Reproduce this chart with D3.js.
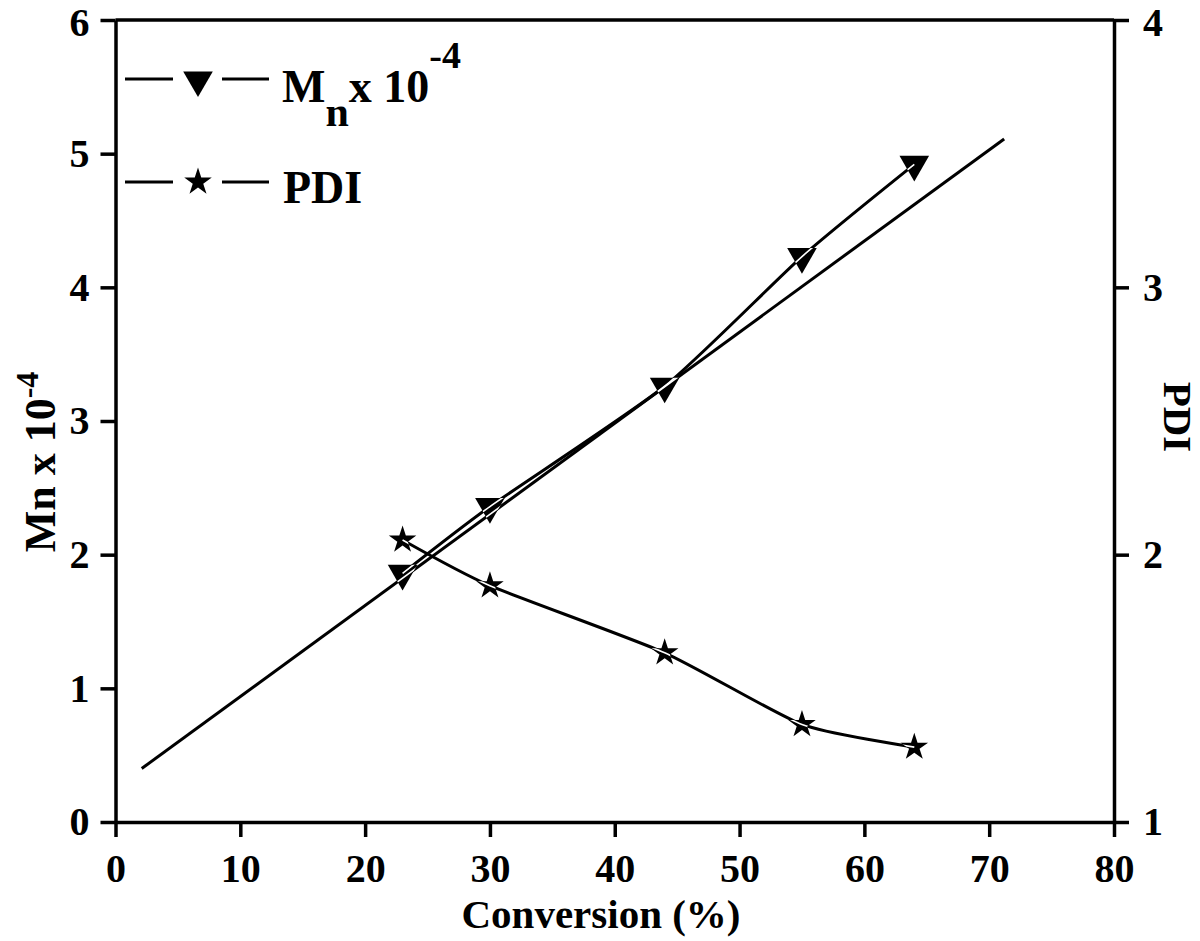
<!DOCTYPE html>
<html>
<head>
<meta charset="utf-8">
<script src="https://cdn.jsdelivr.net/npm/d3@7"></script>
<style>
  body { margin: 0; background: #fff; }
  svg text { font-family: "Liberation Serif", "Times New Roman", serif; font-weight: bold; fill: #000; }
</style>
</head>
<body>
<div id="chart"></div>
<script>
const conversion = [23, 30, 44, 55, 64];
const mnValues = [1.86, 2.36, 3.26, 4.23, 4.92];
const pdiValues = [2.055, 1.884, 1.633, 1.365, 1.28];
const fitConversion = [2.1, 71.2];
const fitMn = [0.4, 5.11];
const xTicks = [0, 10, 20, 30, 40, 50, 60, 70, 80];
const yLeftTicks = [0, 1, 2, 3, 4, 5, 6];
const yRightTicks = [1, 2, 3, 4];

const WIDTH = 1200;
const HEIGHT = 941;
const PLOT = { left: 115.5, right: 1114, top: 20, bottom: 822 };
const AXIS_STROKE = 3.5;
const LINE_STROKE = 3;
const TICK_LEN = 15;
const TICK_FONT = 40;

const svg = d3
  .select("#chart")
  .append("svg")
  .attr("width", WIDTH)
  .attr("height", HEIGHT)
  .attr("viewBox", [0, 0, WIDTH, HEIGHT]);

const x = d3.scaleLinear().domain([0, 80]).range([PLOT.left, PLOT.right]);
const yLeft = d3.scaleLinear().domain([0, 6]).range([PLOT.bottom, PLOT.top]);
const yRight = d3.scaleLinear().domain([1, 4]).range([PLOT.bottom, PLOT.top]);
const intFormat = d3.format("d");

function styleAxis(g) {
  g.select(".domain").attr("stroke-width", AXIS_STROKE).attr("stroke", "#000");
  g.selectAll(".tick line").attr("stroke-width", AXIS_STROKE).attr("stroke", "#000");
  g.selectAll(".tick text").attr("font-size", TICK_FONT).attr("font-family", null);
}

// keep the topmost label inside the frame
function nudgeTopLabel(g, topValue) {
  g.selectAll(".tick")
    .filter((d) => d === topValue)
    .select("text")
    .attr("y", 3);
}

svg
  .append("line")
  .attr("x1", PLOT.left)
  .attr("x2", PLOT.right)
  .attr("y1", PLOT.top)
  .attr("y2", PLOT.top)
  .attr("stroke", "#000")
  .attr("stroke-width", AXIS_STROKE);

svg
  .append("g")
  .attr("transform", `translate(0,${PLOT.bottom})`)
  .call(d3.axisBottom(x).tickValues(xTicks).tickFormat(intFormat).tickSize(TICK_LEN).tickSizeOuter(0).tickPadding(17))
  .call(styleAxis);

svg
  .append("g")
  .attr("transform", `translate(${PLOT.left},0)`)
  .call(d3.axisLeft(yLeft).tickValues(yLeftTicks).tickFormat(intFormat).tickSize(TICK_LEN).tickSizeOuter(0).tickPadding(11))
  .call(styleAxis)
  .call(nudgeTopLabel, 6);

svg
  .append("g")
  .attr("transform", `translate(${PLOT.right},0)`)
  .call(d3.axisRight(yRight).tickValues(yRightTicks).tickFormat(intFormat).tickSize(TICK_LEN).tickSizeOuter(0).tickPadding(14))
  .call(styleAxis)
  .call(nudgeTopLabel, 4);

// axis titles
svg
  .append("text")
  .attr("x", 601)
  .attr("y", 928)
  .attr("text-anchor", "middle")
  .attr("font-size", 41)
  .text("Conversion (%)");

const leftTitle = svg
  .append("text")
  .attr("transform", "translate(55,462) rotate(-90)")
  .attr("text-anchor", "middle")
  .attr("font-size", 44);
leftTitle.append("tspan").text("Mn x 10");
leftTitle.append("tspan").attr("dy", -17).attr("font-size", 32).text("-4");

svg
  .append("text")
  .attr("transform", "translate(1164,417) rotate(90)")
  .attr("text-anchor", "middle")
  .attr("font-size", 41)
  .text("PDI");

// lines
const fitPoints = fitConversion.map((c, i) => [c, fitMn[i]]);
const mnPoints = conversion.map((c, i) => [c, mnValues[i]]);
const pdiPoints = conversion.map((c, i) => [c, pdiValues[i]]);

const smooth = d3.curveCardinal.tension(0.4);
const leftLine = d3.line().x((d) => x(d[0])).y((d) => yLeft(d[1]));
const leftCurve = d3.line().curve(smooth).x((d) => x(d[0])).y((d) => yLeft(d[1]));
const rightCurve = d3.line().curve(smooth).x((d) => x(d[0])).y((d) => yRight(d[1]));

const linePaths = [
  { data: fitPoints, gen: leftLine },
  { data: mnPoints, gen: leftCurve },
  { data: pdiPoints, gen: rightCurve },
];

linePaths.forEach((l) => {
  svg
    .append("path")
    .datum(l.data)
    .attr("fill", "none")
    .attr("stroke", "#000")
    .attr("stroke-width", LINE_STROKE)
    .attr("d", l.gen);
});

const triangleDown = d3.symbol().type(d3.symbolTriangle).size(380);
const star = d3.symbol().type(d3.symbolStar).size(235);

const markerDefs = [
  ...mnPoints.map((d) => ({ symbol: triangleDown, cx: x(d[0]), cy: yLeft(d[1]), rotate: 180 })),
  ...pdiPoints.map((d) => ({ symbol: star, cx: x(d[0]), cy: yRight(d[1]), rotate: 0 })),
];

const clip = svg.append("clipPath").attr("id", "marker-clip");
clip
  .selectAll("path")
  .data(markerDefs)
  .join("path")
  .attr("d", (d) => d.symbol())
  .attr("transform", (d) => `translate(${d.cx},${d.cy}) rotate(${d.rotate})`);

svg
  .append("g")
  .selectAll("path")
  .data(markerDefs)
  .join("path")
  .attr("d", (d) => d.symbol())
  .attr("transform", (d) => `translate(${d.cx},${d.cy}) rotate(${d.rotate})`)
  .attr("fill", "#000");

// thin white trace of the lines where they run through the markers
const whiteTrace = svg.append("g").attr("clip-path", "url(#marker-clip)");
linePaths.forEach((l) => {
  whiteTrace
    .append("path")
    .datum(l.data)
    .attr("fill", "none")
    .attr("stroke", "#fff")
    .attr("stroke-width", 1.6)
    .attr("d", l.gen);
});

// legend
const legend = svg.append("g");
const legendRows = [
  { y: 79, symbol: triangleDown, rotate: 180, dy: 1 },
  { y: 182, symbol: star, rotate: 0, dy: 0 },
];
legendRows.forEach((row) => {
  legend
    .append("line")
    .attr("x1", 125).attr("x2", 173)
    .attr("y1", row.y).attr("y2", row.y)
    .attr("stroke", "#000").attr("stroke-width", LINE_STROKE);
  legend
    .append("line")
    .attr("x1", 222).attr("x2", 269)
    .attr("y1", row.y).attr("y2", row.y)
    .attr("stroke", "#000").attr("stroke-width", LINE_STROKE);
  legend
    .append("path")
    .attr("d", row.symbol)
    .attr("transform", `translate(198,${row.y + row.dy}) rotate(${row.rotate})`)
    .attr("fill", "#000");
});

const mnLabel = legend
  .append("text")
  .attr("x", 282)
  .attr("y", 102)
  .attr("font-size", 46);
mnLabel.append("tspan").text("M");
mnLabel.append("tspan").attr("dy", 24).attr("font-size", 42).text("n");
mnLabel.append("tspan").attr("dy", -24).text("x 10");
mnLabel.append("tspan").attr("dy", -34).attr("font-size", 38).text("-4");

legend
  .append("text")
  .attr("x", 283)
  .attr("y", 203)
  .attr("font-size", 46)
  .text("PDI");
</script>
</body>
</html>
